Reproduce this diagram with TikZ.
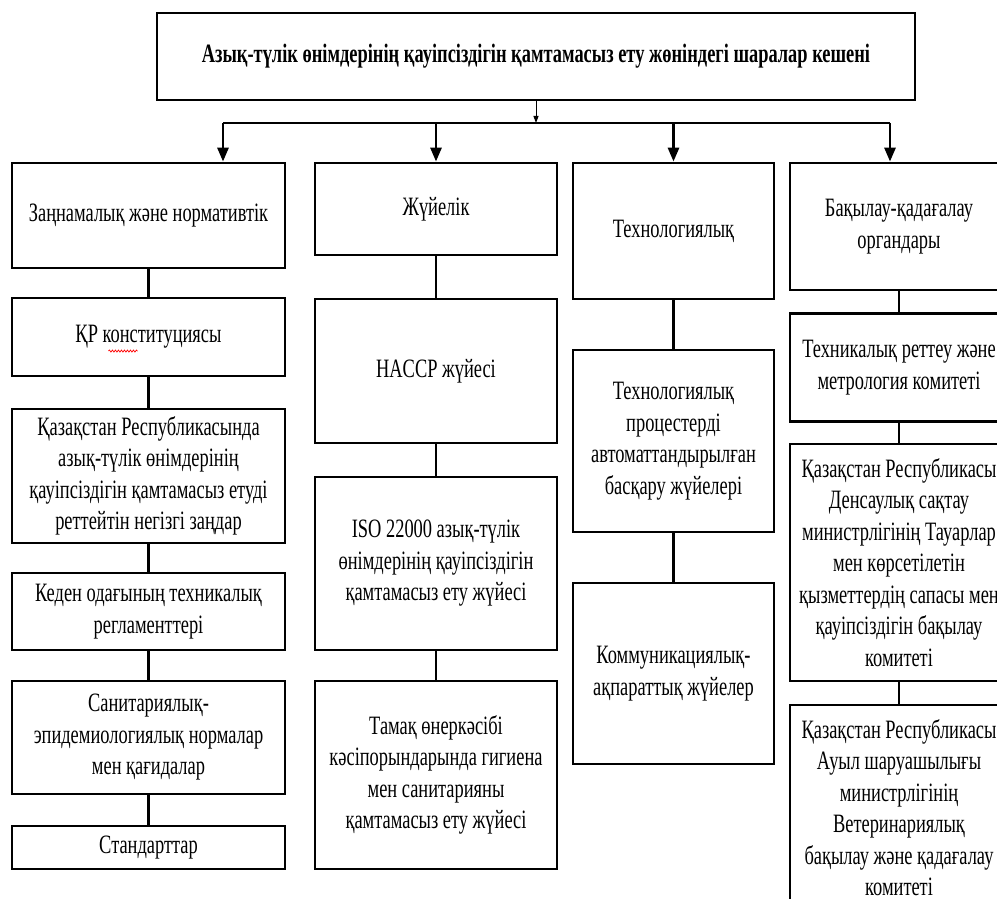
\documentclass[tikz,border=0pt]{standalone}
\usepackage{fontspec}
\setmainfont{Liberation Serif}[FakeStretch=0.695]
\usetikzlibrary{arrows.meta, calc, positioning, decorations.pathmorphing}

\begin{document}
\begin{tikzpicture}[x=1pt, y=-1pt,
    box/.style={draw, line width=2.8pt, rectangle, align=center, inner sep=0pt,
        font=\fontsize{26.5}{31.5}\selectfont},
    link/.style={line width=2.8pt},
    arr/.style={line width=2.8pt, -{Triangle[length=14pt, width=11pt]}}]
    \clip (0,0) rectangle (997,899);

    % жоғарғы блок
    \node[box, minimum width=758, minimum height=87, font=\bfseries\fontsize{26.5}{30}\selectfont] (top) at (536,56.5)
        {Азық-түлік өнімдерінің қауіпсіздігін қамтамасыз ету жөніндегі шаралар кешені};

    % бірінші деңгей
    \node[box, minimum width=273, minimum height=105] (law) at (148.5,215.5) {Заңнамалық және нормативтік};
    \node[box, minimum width=242, minimum height=92] (sys) at (436,209) {Жүйелік};
    \node[box, minimum width=201, minimum height=136] (tech) at (673.5,231) {Технологиялық};
    \node[box, minimum width=218, minimum height=127] (ctrl) at (899,226.5) {Бақылау-қадағалау\\органдары};

    % шина және көрсеткілер
    \coordinate (busL) at (223,123);
    \coordinate (busR) at (890,123);
    \draw[line width=1pt, -{Triangle[length=7pt, width=5pt]}] (top.south) -- (top.south |- busL);
    \draw[link] (busL) -- (busR);
    \draw[arr] (busL) -- (busL |- law.north);
    \draw[arr] (sys.north |- busL) -- (sys.north);
    \draw[arr] (tech.north |- busL) -- (tech.north);
    \draw[arr] (busR) -- (busR |- ctrl.north);

    % заңнамалық бағаны
    \node[box, minimum width=273, minimum height=78] (law1) at (148.5,337) {ҚР конституциясы};
    \node[box, minimum width=273, minimum height=134] (law2) at (148.5,476)
        {Қазақстан Республикасында\\азық-түлік өнімдерінің\\қауіпсіздігін қамтамасыз етуді\\реттейтін негізгі заңдар};
    \node[box, minimum width=273, minimum height=77] (law3) at (148.5,611.5) {Кеден одағының техникалық\\регламенттері};
    \node[box, minimum width=273, minimum height=113] (law4) at (148.5,737.5)
        {Санитариялық-\\эпидемиологиялық нормалар\\мен қағидалар};
    \node[box, minimum width=273, minimum height=43] (law5) at (148.5,847.5) {Стандарттар};
    \draw[red, line width=0.7pt, decorate, decoration={snake, amplitude=1pt, segment length=3pt}]
        ($(law1.center)+(-40,14)$) -- ($(law1.center)+(-11,14)$);

    % жүйелік бағаны
    \node[box, minimum width=242, minimum height=144] (sys1) at (436,371) {HACCP жүйесі};
    \node[box, minimum width=242, minimum height=173] (sys2) at (436,563.5)
        {ISO 22000 азық-түлік\\өнімдерінің қауіпсіздігін\\қамтамасыз ету жүйесі};
    \node[box, minimum width=242, minimum height=188] (sys3) at (436,775)
        {Тамақ өнеркәсібі\\кәсіпорындарында гигиена\\мен санитарияны\\қамтамасыз ету жүйесі};

    % технологиялық бағаны
    \node[box, minimum width=201, minimum height=182] (tech1) at (673.5,441)
        {Технологиялық\\процестерді\\автоматтандырылған\\басқару жүйелері};
    \node[box, minimum width=201, minimum height=181] (tech2) at (673.5,673.5)
        {Коммуникациялық-\\ақпараттық жүйелер};

    % бақылау бағаны
    \node[box, minimum width=218, minimum height=108] (ctrl1) at (899,367.5) {Техникалық реттеу және\\метрология комитеті};
    \node[box, minimum width=218, minimum height=237] (ctrl2) at (899,562.5)
        {Қазақстан Республикасы\\Денсаулық сақтау\\министрлігінің Тауарлар\\мен көрсетілетін\\қызметтердің сапасы мен\\қауіпсіздігін бақылау\\комитеті};
    \node[box, minimum width=218, minimum height=205] (ctrl3) at (899,807.5)
        {Қазақстан Республикасы\\Ауыл шаруашылығы\\министрлігінің\\Ветеринариялық\\бақылау және қадағалау\\комитеті};

    % байланыстар
    \draw[link] (law) -- (law1);
    \draw[link] (law1) -- (law2);
    \draw[link] (law2) -- (law3);
    \draw[link] (law3) -- (law4);
    \draw[link] (law4) -- (law5);
    \draw[link] (sys) -- (sys1);
    \draw[link] (sys1) -- (sys2);
    \draw[link] (sys2) -- (sys3);
    \draw[link] (tech) -- (tech1);
    \draw[link] (tech1) -- (tech2);
    \draw[link] (ctrl) -- (ctrl1);
    \draw[link] (ctrl1) -- (ctrl2);
    \draw[link] (ctrl2) -- (ctrl3);
\end{tikzpicture}
\end{document}
